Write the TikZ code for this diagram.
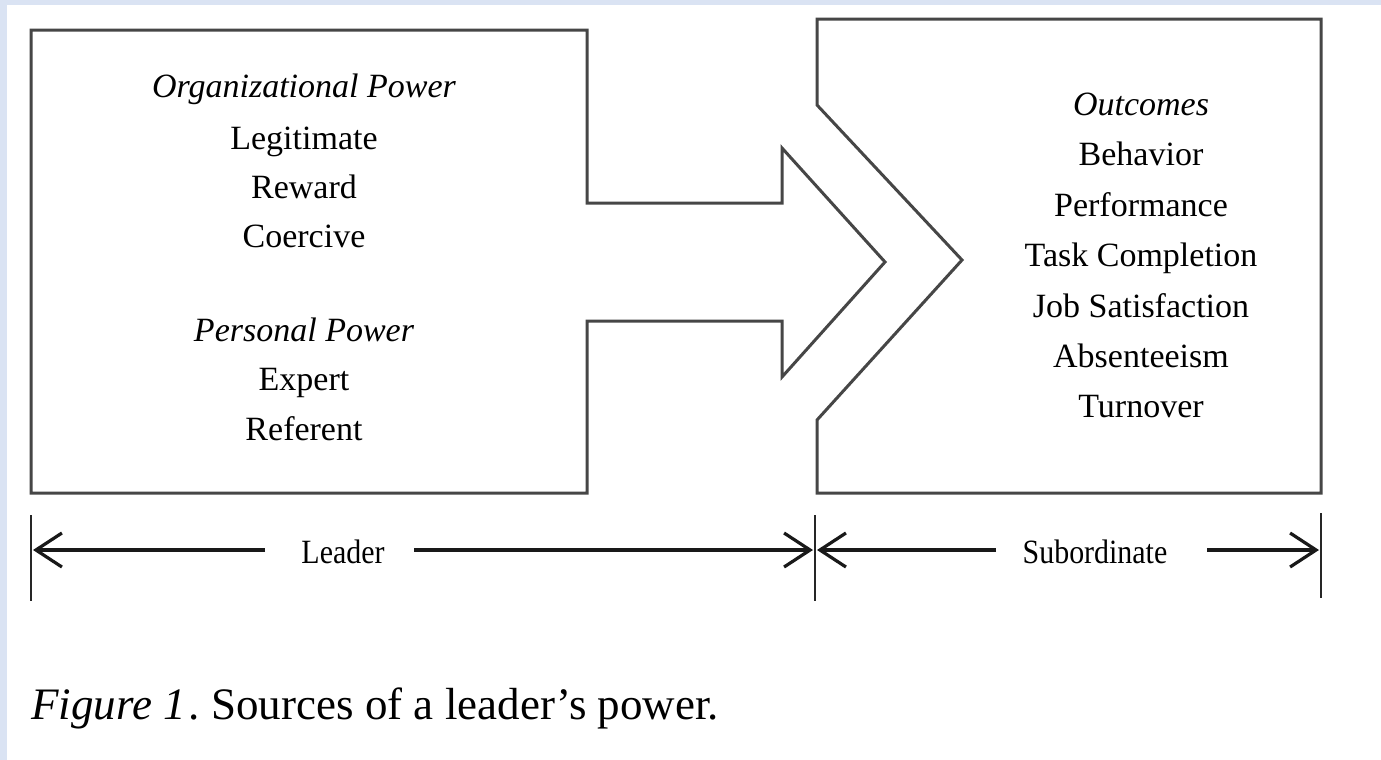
\documentclass[tikz,border=0pt]{standalone}
\usepackage{fontspec}
\usepackage{graphicx}
\setmainfont{Liberation Serif}
\usetikzlibrary{arrows.meta}
\definecolor{bgblue}{RGB}{218,227,243}
\definecolor{boxgray}{RGB}{70,70,70}
\begin{document}
\frenchspacing
\begin{tikzpicture}[x=0.5pt,y=-0.5pt,
  shapeline/.style={draw=boxgray,line width=1.5pt,line join=miter},
  boxtxt/.style={anchor=base,inner sep=0pt,font=\fontsize{17}{20}\selectfont},
  boxhead/.style={anchor=base,inner sep=0pt,font=\fontsize{17}{20}\selectfont\itshape},
  tickline/.style={draw=black!85,line width=1pt},
  dimarrow/.style={draw=black!90,line width=1.6pt,-{Straight Barb[length=13pt,width=17pt]}},
  dimlabel/.style={anchor=base,inner sep=0pt,font=\fontsize{17}{20}\selectfont}]
\useasboundingbox (0,0) rectangle (1381,760);
\fill[bgblue] (0,0) rectangle (1381,760);
\fill[white] (7,5) rectangle (1381,760);

% left box with arrow
\draw[shapeline] (31,30) -- (587,30) -- (587,203) -- (782,203) -- (782,148)
  -- (885,262) -- (782,377) -- (782,321) -- (587,321) -- (587,493) -- (31,493) -- cycle;
% right box with notch
\draw[shapeline] (817,19) -- (1321,19) -- (1321,493) -- (817,493) -- (817,420)
  -- (962,260) -- (817,105) -- cycle;

% left texts
\node[boxhead] (org) at (304,97) {Organizational Power};
\node[boxtxt] (legit) at (304,149) {Legitimate};
\node[boxtxt] (reward) at (304,198) {Reward};
\node[boxtxt] (coerc) at (304,247) {Coercive};
\node[boxhead] (pers) at (304,341) {Personal Power};
\node[boxtxt] (expert) at (304,390) {Expert};
\node[boxtxt] (refer) at (304,440) {Referent};

% right texts
\node[boxhead] (outc) at (1141,115) {Outcomes};
\node[boxtxt] (behav) at (1141,165) {Behavior};
\node[boxtxt] (perf) at (1141,216) {Performance};
\node[boxtxt] (task) at (1141,266) {Task Completion};
\node[boxtxt] (job) at (1141,317) {Job Satisfaction};
\node[boxtxt] (absent) at (1141,367) {Absenteeism};
\node[boxtxt] (turn) at (1141,417) {Turnover};

% dimension ticks
\coordinate (t1a) at (31,515);  \coordinate (t1b) at (31,601);
\coordinate (t2a) at (815,515); \coordinate (t2b) at (815,601);
\coordinate (t3a) at (1321,513);\coordinate (t3b) at (1321,598);
\draw[tickline] (t1a) -- (t1b);
\draw[tickline] (t2a) -- (t2b);
\draw[tickline] (t3a) -- (t3b);

% dimension labels
\node[dimlabel] (leader) at (343,563) {\scalebox{0.88}[1]{Leader}};
\node[dimlabel] (subord) at (1095,563) {\scalebox{0.88}[1]{Subordinate}};

% dimension arrows
\coordinate (a1s) at (265,550); \coordinate (a1e) at (33,550);
\coordinate (a2s) at (414,550); \coordinate (a2e) at (813,550);
\coordinate (a3s) at (996,550); \coordinate (a3e) at (817,550);
\coordinate (a4s) at (1207,550);\coordinate (a4e) at (1319,550);
\draw[dimarrow] (a1s) -- (a1e);
\draw[dimarrow] (a2s) -- (a2e);
\draw[dimarrow] (a3s) -- (a3e);
\draw[dimarrow] (a4s) -- (a4e);

% caption
\node[anchor=base west,inner sep=0pt,font=\fontsize{22.5}{26}\selectfont] (caption) at (31,719)
  {\textit{Figure 1}\kern1.5pt. Sources of a leader’s power.};
\end{tikzpicture}
\end{document}
